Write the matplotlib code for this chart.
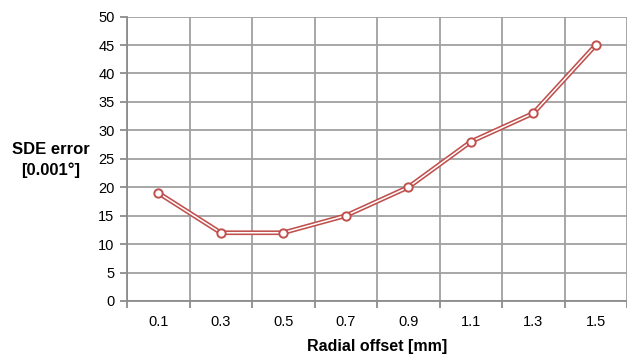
import matplotlib.pyplot as plt

plt.rcParams['font.family'] = ['Liberation Sans', 'DejaVu Sans']

offsets = ["0.1", "0.3", "0.5", "0.7", "0.9", "1.1", "1.3", "1.5"]
sde_error = [19, 12, 12, 15, 20, 28, 33, 45]

fig = plt.figure(figsize=(6.27, 3.54), dpi=100)
ax = fig.add_axes([127 / 627, 1 - 301 / 354, 500 / 627, (301 - 16.6) / 354])

x = list(range(len(offsets)))
# double line: red outline with a white core
ax.plot(x, sde_error, color="#c0504d", lw=3.4, solid_capstyle="round", zorder=3)
ax.plot(x, sde_error, color="white", lw=1.1, zorder=4)
ax.plot(x, sde_error, ls="none", marker="o", ms=6, mfc="white",
        mec="#c0504d", mew=1.4, zorder=5)

ax.set_xlim(-0.5, len(offsets) - 0.5)
ax.set_ylim(0, 50)
ax.set_yticks(range(0, 51, 5))
ax.set_xticks(x)
ax.set_xticklabels(offsets)
ax.set_xticks([i - 0.5 for i in range(len(offsets) + 1)], minor=True)

ax.grid(True, axis="y", color="#a0a0a0", lw=1.3)
ax.grid(True, axis="x", which="minor", color="#a0a0a0", lw=1.3)
ax.set_axisbelow(True)

for s in ["top", "right"]:
    ax.spines[s].set_visible(False)
for s in ["left", "bottom"]:
    ax.spines[s].set_color("#8c8c8c")
    ax.spines[s].set_linewidth(1.3)

ax.tick_params(axis="y", length=5, color="#8c8c8c", width=1.3, labelsize=10.5, pad=4)
ax.tick_params(axis="x", which="major", length=0, labelsize=10.5, pad=10)
ax.tick_params(axis="x", which="minor", length=5, color="#8c8c8c", width=1.3)

ax.set_xlabel("Radial offset [mm]", fontweight="bold", fontsize=11.5, labelpad=7)
fig.text(51 / 627, 1 - 160 / 354, "SDE error\n[0.001°]", fontweight="bold",
         fontsize=12, ha="center", va="center", linespacing=1.45)

fig.savefig("out.png", dpi=100)
